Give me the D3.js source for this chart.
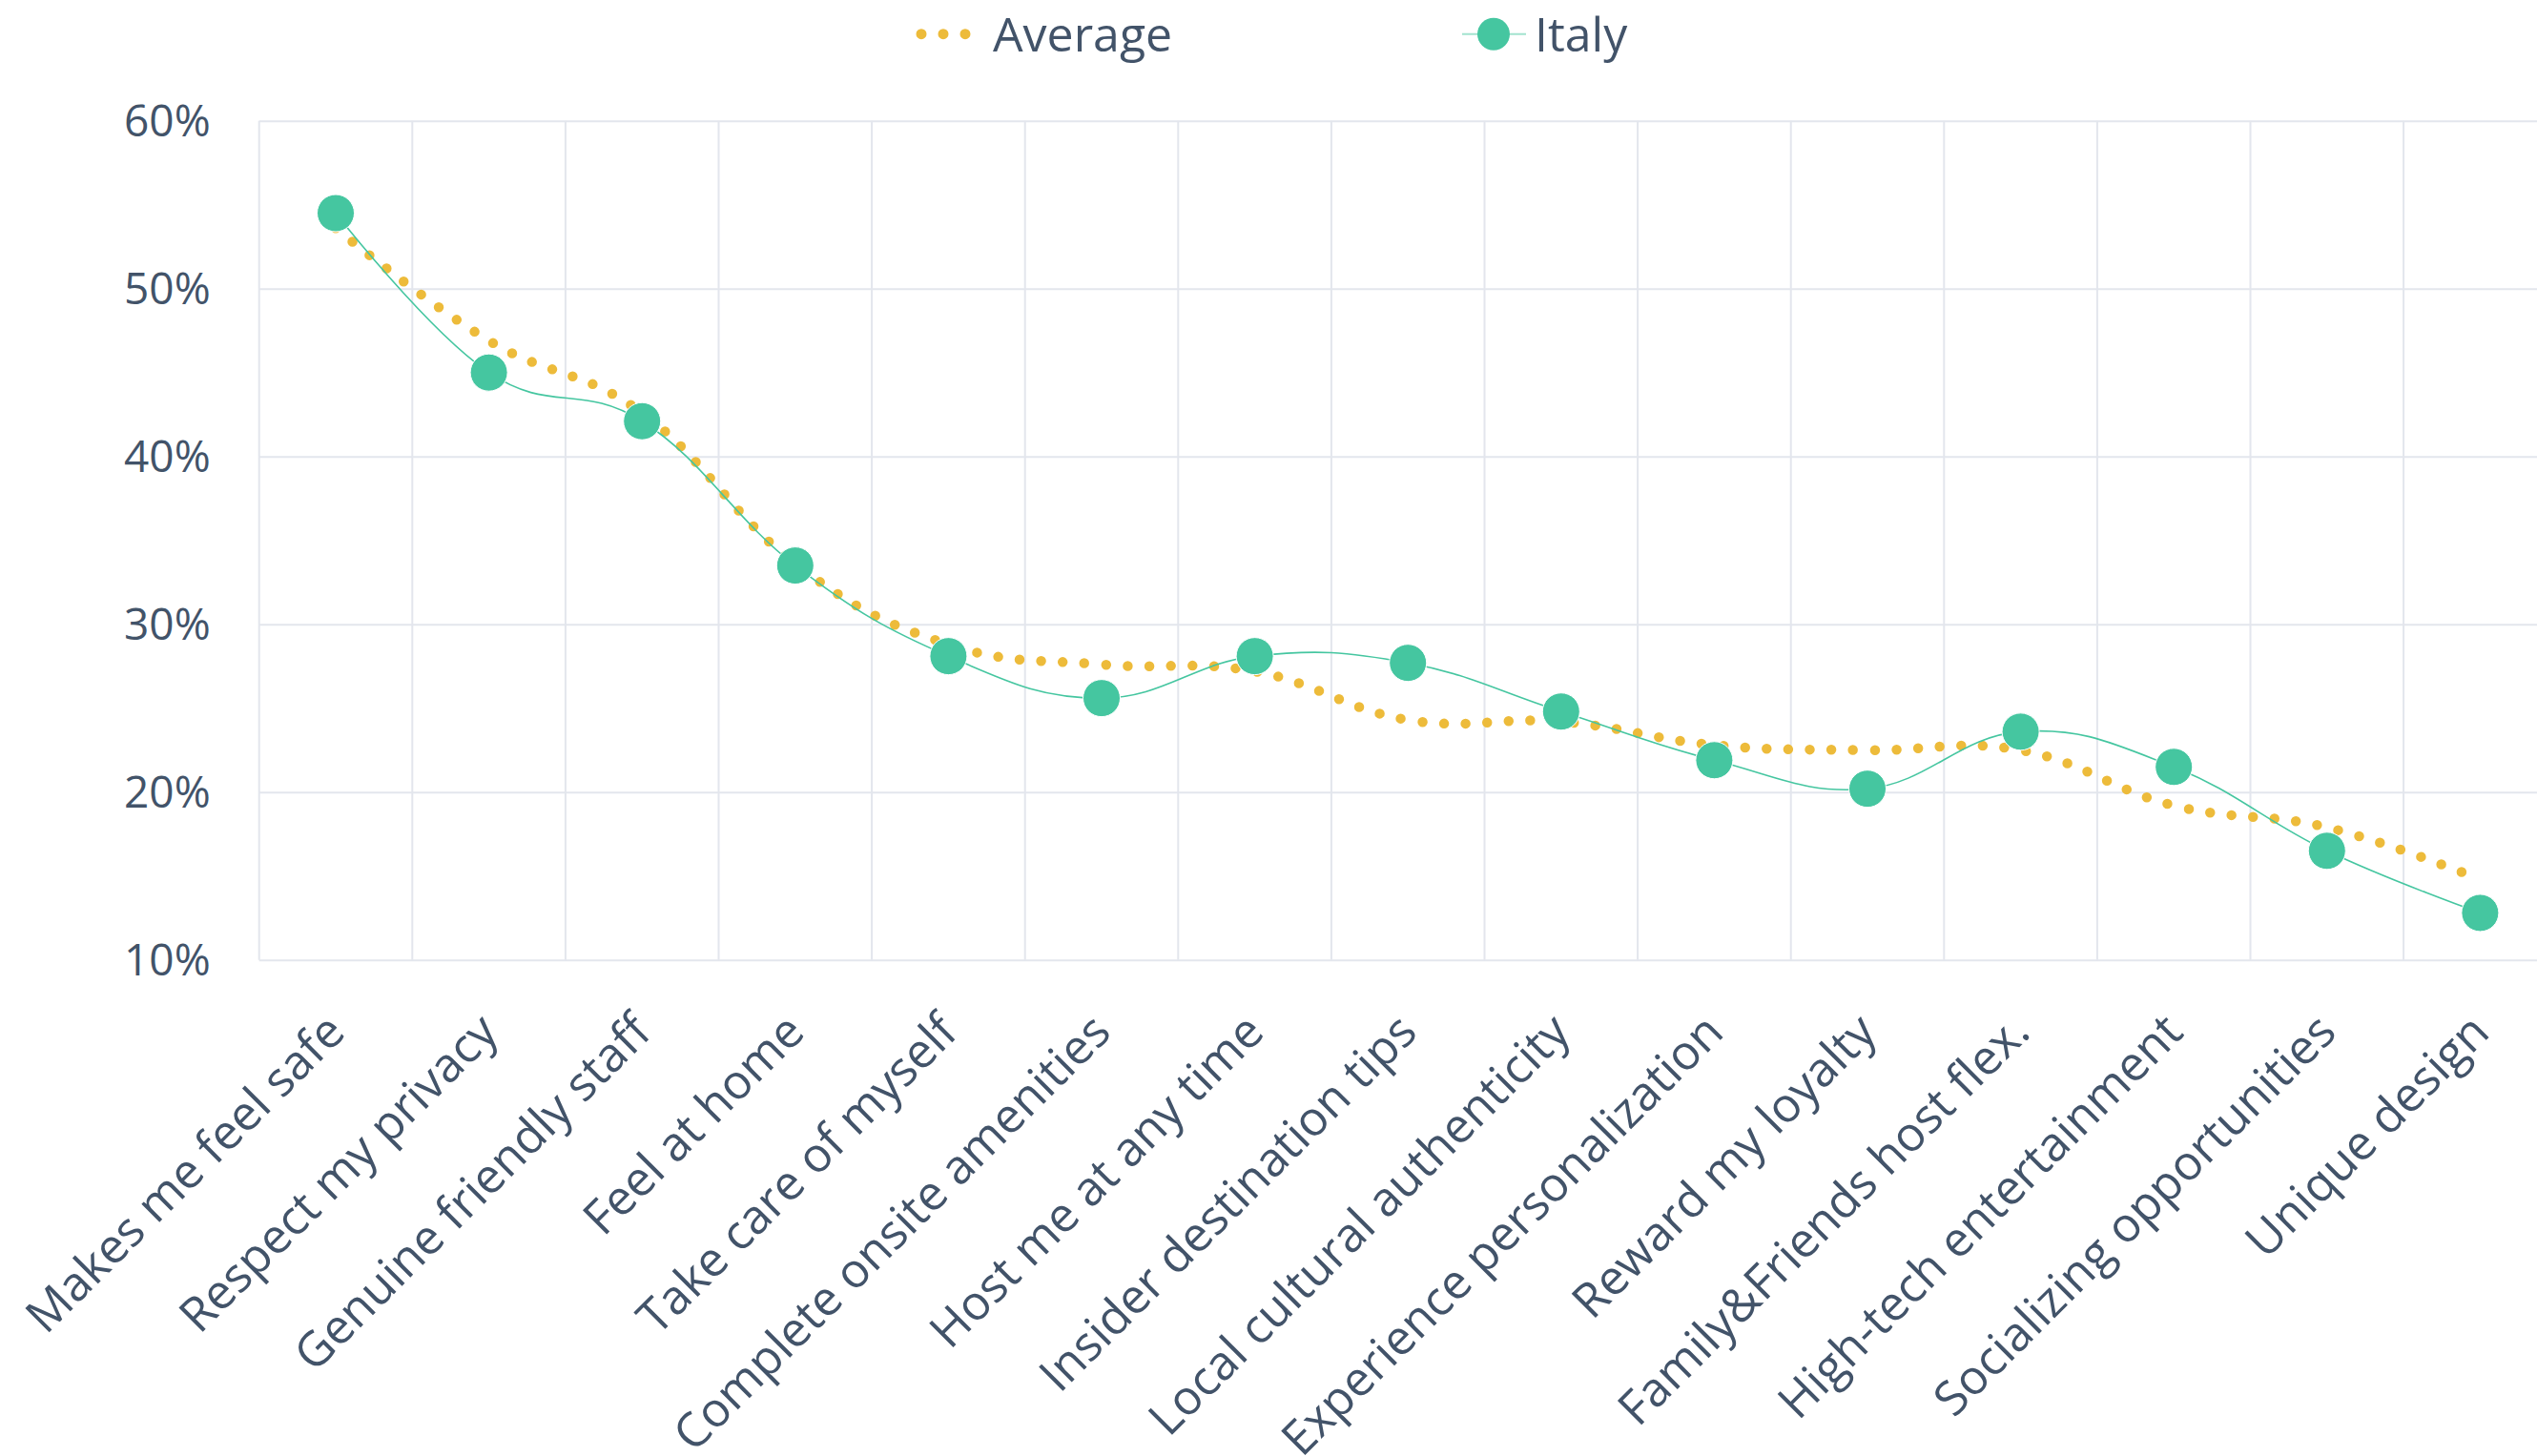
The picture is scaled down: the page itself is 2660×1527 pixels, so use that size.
<!DOCTYPE html>
<html>
<head>
<meta charset="utf-8">
<script src="https://cdn.jsdelivr.net/npm/d3@7"></script>
<style>
  html, body { margin: 0; padding: 0; background: #ffffff; }
  svg { display: block; }
  text { font-family: "Open Sans", "Noto Sans", sans-serif; fill: #425369; }
</style>
</head>
<body>
<svg id="chart" width="2660" height="1527"></svg>
<script>
const categories = [
  "Makes me feel safe", "Respect my privacy", "Genuine friendly staff", "Feel at home",
  "Take care of myself", "Complete onsite amenities", "Host me at any time",
  "Insider destination tips", "Local cultural authenticity", "Experience personalization",
  "Reward my loyalty", "Family&Friends host flex.", "High-tech entertainment",
  "Socializing opportunities", "Unique design"
];
const averageValues = [53.6, 46.9, 42.6, 33.6, 28.8, 27.6, 27.2, 24.3, 24.2, 22.8, 22.5, 22.5, 19.2, 17.9, 14.8];
const italyValues   = [54.5, 45.0, 42.1, 33.5, 28.1, 25.6, 28.1, 27.7, 24.8, 21.9, 20.2, 23.6, 21.5, 16.5, 12.8];
const yTicks = [10, 20, 30, 40, 50, 60];
const seriesNames = ["Average", "Italy"];

(function () {
const W = 2660, H = 1527;
const plotLeft = 271.7, plotTop = 126.7, plotBottom = 1006.7, band = 160.6;
const green = "#45C6A0", yellow = "#EDBB3A", grid = "#E3E6ED";

const svg = d3.select("#chart");

const x = d3.scaleBand().domain(categories).range([plotLeft, plotLeft + band * categories.length]).paddingInner(0).paddingOuter(0);
const y = d3.scaleLinear().domain([10, 60]).range([plotBottom, plotTop]);
const cx = c => x(c) + x.bandwidth() / 2;

// horizontal grid
const gy = svg.append("g").attr("transform", `translate(${plotLeft},0)`)
  .call(d3.axisLeft(y).tickValues(yTicks).tickSize(-(W - plotLeft)).tickFormat(""));
gy.select(".domain").remove();
gy.selectAll("line").attr("stroke", grid).attr("stroke-width", 2);

// vertical grid at band boundaries
svg.append("g").selectAll("line")
  .data(categories.concat([null]))
  .join("line")
  .attr("x1", (d, i) => plotLeft + i * x.step())
  .attr("x2", (d, i) => plotLeft + i * x.step())
  .attr("y1", plotTop).attr("y2", plotBottom)
  .attr("stroke", grid).attr("stroke-width", 2);

// y tick labels
const yl = svg.append("g").attr("transform", `translate(${plotLeft},0)`)
  .call(d3.axisLeft(y).tickValues(yTicks).tickSize(0).tickPadding(51).tickFormat(d => d + "%"));
yl.select(".domain").remove();
yl.selectAll("text").attr("font-size", 46).attr("fill", "#425369")
  .style("font-family", '"Open Sans", sans-serif').attr("dy", "0.35em");

// x labels
svg.append("g").selectAll("text")
  .data(categories)
  .join("text")
  .attr("transform", d => `translate(${cx(d) + 12},${1085}) rotate(-45)`)
  .attr("text-anchor", "end")
  .attr("font-size", 50)
  .text(d => d);

const curve = d3.curveCardinal.tension(-0.2);

// Average dotted line
const lineAvg = d3.line().x((d, i) => cx(categories[i])).y(d => y(d)).curve(curve);
svg.append("path")
  .attr("d", lineAvg(averageValues))
  .attr("fill", "none")
  .attr("stroke", yellow)
  .attr("stroke-width", 10.5)
  .attr("stroke-linecap", "round")
  .attr("stroke-dasharray", "0 22.7");

// Italy line
const lineIt = d3.line().x((d, i) => cx(categories[i])).y(d => y(d)).curve(curve);
svg.append("path")
  .attr("d", lineIt(italyValues))
  .attr("fill", "none")
  .attr("stroke", green)
  .attr("stroke-width", 1.6);

svg.append("g").selectAll("circle")
  .data(italyValues)
  .join("circle")
  .attr("cx", (d, i) => cx(categories[i]))
  .attr("cy", d => y(d))
  .attr("r", 19.5)
  .attr("fill", green)
  .attr("stroke", "#ffffff")
  .attr("stroke-width", 1);

// Legend
const leg = svg.append("g");
leg.append("line")
  .attr("x1", 966).attr("x2", 1013).attr("y1", 35.7).attr("y2", 35.7)
  .attr("stroke", yellow).attr("stroke-width", 11).attr("stroke-linecap", "round")
  .attr("stroke-dasharray", "0 23");
leg.append("text").attr("x", 1041).attr("y", 54).attr("font-size", 50).text(seriesNames[0]);
leg.append("line")
  .attr("x1", 1533).attr("x2", 1600).attr("y1", 35.7).attr("y2", 35.7)
  .attr("stroke", "#A3E3CF").attr("stroke-width", 2);
leg.append("circle").attr("cx", 1566).attr("cy", 35.7).attr("r", 17).attr("fill", green);
leg.append("text").attr("x", 1609).attr("y", 54).attr("font-size", 50).text(seriesNames[1]);
})();
</script>
</body>
</html>
